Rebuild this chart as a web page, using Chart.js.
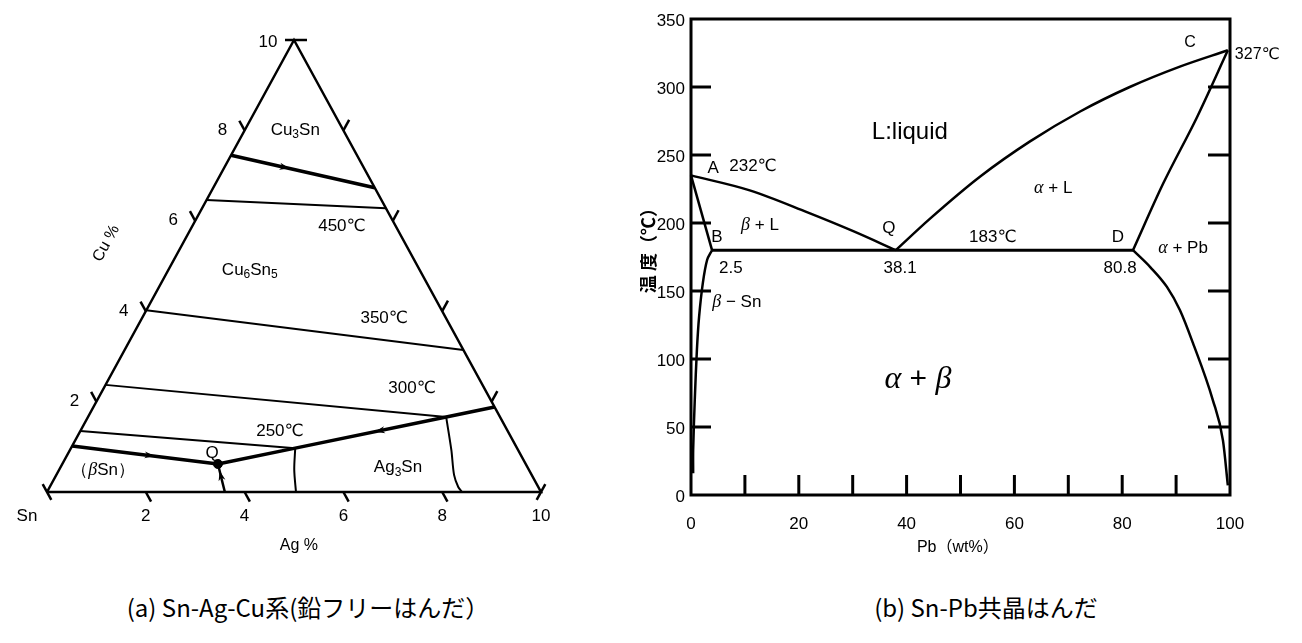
<!DOCTYPE html>
<html lang="ja">
<head>
<meta charset="UTF-8">
<title>Sn-Ag-Cu / Sn-Pb</title>
<script src="https://cdn.jsdelivr.net/npm/chart.js@4"></script>
<style>
    body {
        margin: 0;
        width: 1302px;
        height: 643px;
        background: #fff;
        position: relative;
        overflow: hidden;
    }
    #ternary { position: absolute; left: 0; top: 0; }
    #phase { position: absolute; left: 640px; top: 0; }
    .caption {
        position: absolute;
        top: 589px;
        font-family: "Noto Sans CJK JP", sans-serif;
        font-size: 24px;
        color: #000;
        transform: translateX(-50%);
        white-space: nowrap;
    }
</style>
</head>
<body>
<canvas id="ternary" width="640" height="580"></canvas>
<canvas id="phase" width="662" height="580"></canvas>
<div class="caption" style="left:308px">(a) Sn-Ag-Cu系(鉛フリーはんだ）</div>
<div class="caption" style="left:986px">(b) Sn-Pb共晶はんだ</div>

<script>
const SANS = '"Liberation Sans", "DejaVu Sans", sans-serif';

// ---- (a) Sn-Ag-Cu ternary, points as [Ag%, Cu%] ----
const triangle = [[0, 0], [10, 0], [0, 10], [0, 0]];
const cu3snBoundary = [[0, 7.45], [3.27, 6.73]];
const iso450 = [[0, 6.46], [3.72, 6.28]];
const iso350 = [[0, 4.02], [6.86, 3.14]];
const iso300 = [[0, 2.37], [7.25, 1.66]];
const iso250 = [[0, 1.35], [4.54, 0.97]];
const ag3snValley = [[8.12, 1.88], [7.25, 1.66], [4.54, 0.97], [3.15, 0.62]];
const betaSnValley = [[0, 1.02], [3.15, 0.62]];
const qToBase = [[3.15, 0.62], [3.6, 0]];
const midBoundary = [[4.54, 0.97], [4.76, 0.49], [5.04, 0]];
const ag3snRight = [[7.25, 1.66], [7.72, 0.93], [8.05, 0.38], [8.27, 0.11], [8.40, 0]];
const pointQ = [[3.15, 0.62]];
const ternaryArrows = [
    [[1.0, 7.23], [1.33, 7.157]],
    [[6.3, 1.417], [5.97, 1.334]],
    [[1.4, 0.842], [1.78, 0.794]],
    [[3.455, 0.2], [3.26, 0.47]]
];
const agTicks = [2, 4, 6, 8];
const cuTicks = [2, 4, 6, 8];
const ternaryLabels = [
    ['Cu_3Sn', 1.02, 8.01],
    ['Cu_6Sn_5', 1.65, 4.91],
    ['450℃', 3.03, 5.88],
    ['350℃', 4.9, 3.85],
    ['300℃', 6.24, 2.3],
    ['250℃', 4.04, 1.35],
    ['Ag_3Sn', 6.83, 0.55],
    ['（βSn）', 0.89, 0.49],
    ['Q', 2.91, 0.86]
];

// ---- (b) Sn-Pb phase diagram, points as [Pb wt%, °C] ----
const liquidusAQ = [[0, 235], [10.9, 224], [21.5, 208], [30.1, 194], [38, 180]];
const liquidusQC = [[38, 180], [44.3, 203], [53.6, 234], [62.9, 260], [72.2, 282], [81.4, 300], [90.7, 315], [99.6, 327]];
const solidusDC = [[82, 180], [87.6, 229], [93.9, 278], [99.6, 327]];
const solidusAB = [[0, 235], [3.9, 180]];
const eutectic = [[3.9, 180], [82, 180]];
const solvusSn = [[3.9, 180], [3.0, 173], [2.2, 156], [1.5, 131], [1.1, 107], [0.7, 70], [0.4, 33], [0.4, 16]];
const solvusPb = [[82, 180], [85.2, 167.6], [88.3, 153], [90.7, 136], [93.1, 112], [96.8, 70], [98.7, 40], [99.6, 7]];
const xTickLabels = [0, 20, 40, 60, 80, 100];
const xMinorTicks = [10, 20, 30, 40, 50, 60, 70, 80, 90];
const yTickLabels = [0, 50, 100, 150, 200, 250, 300, 350];
const yInnerTicks = [50, 100, 150, 200, 250, 300];
const phaseLabels = [
    ['C', 92.6, 333, 16, 'center'],
    ['327℃', 100.9, 323.5, 16, 'left'],
    ['L:liquid', 40.6, 267, 24, 'center'],
    ['A', 4.1, 240, 17, 'center'],
    ['232℃', 11.5, 242, 17, 'center'],
    ['α + L', 67.2, 225.7, 17, 'center'],
    ['β + L', 12.8, 198.5, 17, 'center'],
    ['Q', 36.7, 196, 17, 'center'],
    ['183℃', 56, 189.7, 17, 'center'],
    ['D', 79.2, 189.7, 17, 'center'],
    ['α + Pb', 91.3, 181.6, 17, 'center'],
    ['B', 4.8, 189.7, 17, 'center'],
    ['2.5', 7.4, 167, 17, 'center'],
    ['38.1', 38.8, 167, 17, 'center'],
    ['80.8', 79.6, 167, 17, 'center'],
    ['β − Sn', 8.5, 142, 17, 'center'],
    ['α + β', 42.1, 84.6, 30, 'center']
];

// ternary (Ag, Cu) -> plot x, y
function tern(p) { return {x: p[0] + p[1] / 2, y: p[1]}; }
function xy(p) { return {x: p[0], y: p[1]}; }

// text with italic greek letters and "_" subscripts
function drawRich(ctx, text, px, py, size, align) {
    const runs = [];
    for (let i = 0; i < text.length; i++) {
        const ch = text[i];
        if (ch === '_') { runs.push({t: text[++i], sub: true}); continue; }
        runs.push({t: ch, greek: /[αβ]/.test(ch)});
    }
    const fontOf = r => r.greek ? `italic ${Math.round(size * 1.05)}px "Liberation Serif", serif`
        : r.sub ? `${Math.round(size * 0.72)}px ${SANS}` : `${size}px ${SANS}`;
    let w = 0;
    runs.forEach(r => { ctx.font = fontOf(r); r.w = ctx.measureText(r.t).width; w += r.w; });
    let cx = align === 'left' ? px : align === 'right' ? px - w : px - w / 2;
    ctx.textAlign = 'left';
    ctx.textBaseline = 'middle';
    runs.forEach(r => {
        ctx.font = fontOf(r);
        ctx.fillText(r.t, cx, r.sub ? py + size * 0.3 : py);
        cx += r.w;
    });
}

function seg(ctx, x1, y1, x2, y2) {
    ctx.beginPath(); ctx.moveTo(x1, y1); ctx.lineTo(x2, y2); ctx.stroke();
}

function lineSet(points, width, conv, smooth) {
    const ds = {
        data: points.map(conv),
        showLine: true,
        borderColor: '#000',
        borderWidth: width,
        pointRadius: 0,
        fill: false,
        tension: 0,
        clip: false
    };
    if (smooth === 'mono') ds.cubicInterpolationMode = 'monotone';
    else if (smooth) ds.tension = smooth;
    return ds;
}

// ---------- chart (a) ----------
const ternaryDecor = {
    id: 'ternaryDecor',
    afterDatasetsDraw(chart) {
        const {ctx, scales: {x, y}} = chart;
        const px = p => { const t = tern(p); return [x.getPixelForValue(t.x), y.getPixelForValue(t.y)]; };
        const apex = px([0, 10]), left = px([0, 0]), right = px([10, 0]);
        const unit = (a, b) => { const dx = b[0] - a[0], dy = b[1] - a[1], l = Math.hypot(dx, dy); return [dx / l, dy / l]; };
        const dR = unit(apex, right);   // down the right edge
        const dL = unit(left, apex);    // up the left edge
        ctx.save();
        ctx.strokeStyle = '#000';
        ctx.fillStyle = '#000';
        ctx.lineWidth = 2.5;
        agTicks.forEach(v => { const p = px([v, 0]); seg(ctx, p[0], p[1], p[0] + dR[0] * 11, p[1] + dR[1] * 11); });
        cuTicks.forEach(v => {
            const p = px([0, v]); seg(ctx, p[0], p[1], p[0] - dR[0] * 11, p[1] - dR[1] * 11);
            const q = px([10 - v, v]); seg(ctx, q[0], q[1], q[0] + dL[0] * 12, q[1] + dL[1] * 12);
        });
        seg(ctx, left[0] - dR[0] * 9, left[1] - dR[1] * 9, left[0] + dR[0] * 9, left[1] + dR[1] * 9);
        seg(ctx, right[0] - dL[0] * 9, right[1] - dL[1] * 9, right[0] + dL[0] * 9, right[1] + dL[1] * 9);
        seg(ctx, apex[0] - 9, apex[1], apex[0] + 13, apex[1]);

        // arrowheads
        ternaryArrows.forEach(([a, b]) => {
            const pa = px(a), pb = px(b), d = unit(pa, pb);
            const n = [-d[1], d[0]];
            ctx.beginPath();
            ctx.moveTo(pb[0], pb[1]);
            ctx.lineTo(pb[0] - d[0] * 10 + n[0] * 3.5, pb[1] - d[1] * 10 + n[1] * 3.5);
            ctx.lineTo(pb[0] - d[0] * 7, pb[1] - d[1] * 7);
            ctx.lineTo(pb[0] - d[0] * 10 - n[0] * 3.5, pb[1] - d[1] * 10 - n[1] * 3.5);
            ctx.closePath();
            ctx.fill();
        });

        // axis numbers
        ctx.font = `17px ${SANS}`;
        ctx.textAlign = 'center';
        ctx.textBaseline = 'middle';
        agTicks.concat([10]).forEach(v => { const p = px([v, 0]); ctx.fillText(String(v), p[0], p[1] + 24); });
        ctx.fillText('Sn', left[0] - 20, left[1] + 24);
        cuTicks.forEach(v => { const p = px([0, v]); ctx.fillText(String(v), p[0] - 22, p[1]); });
        ctx.fillText('10', apex[0] - 26, apex[1] + 2);
        ctx.font = `16px ${SANS}`;
        ctx.fillText('Ag %', x.getPixelForValue(5.1), left[1] + 54);
        ctx.save();
        const cp = px([-1.55, 5.5]);
        ctx.translate(cp[0], cp[1]);
        ctx.rotate(-Math.atan2(left[1] - apex[1], apex[0] - left[0]));
        ctx.fillText('Cu %', 0, 0);
        ctx.restore();

        ternaryLabels.forEach(([t, ag, cu]) => { const p = px([ag, cu]); drawRich(ctx, t, p[0], p[1], 17, 'center'); });
        ctx.restore();
    }
};

new Chart(document.getElementById('ternary'), {
    type: 'scatter',
    data: {
        datasets: [
            lineSet(triangle, 2.5, tern),
            lineSet(cu3snBoundary, 3.5, tern),
            lineSet(iso450, 2, tern),
            lineSet(iso350, 2, tern),
            lineSet(iso300, 2, tern),
            lineSet(iso250, 2, tern),
            lineSet(ag3snValley, 3.5, tern),
            lineSet(betaSnValley, 3.5, tern),
            lineSet(qToBase, 2.5, tern),
            lineSet(midBoundary, 2, tern, 0.3),
            lineSet(ag3snRight, 2, tern, 0.3),
            {data: pointQ.map(tern), pointRadius: 4.5, backgroundColor: '#000', borderColor: '#000', clip: false}
        ]
    },
    options: {
        responsive: false,
        animation: false,
        layout: {padding: {left: 47, right: 99, top: 40, bottom: 88}},
        plugins: {legend: {display: false}, tooltip: {enabled: false}},
        scales: {
            x: {type: 'linear', min: 0, max: 10, display: false},
            y: {type: 'linear', min: 0, max: 10, display: false}
        }
    },
    plugins: [ternaryDecor]
});

// ---------- chart (b) ----------
const phaseDecor = {
    id: 'phaseDecor',
    afterDatasetsDraw(chart) {
        const {ctx, chartArea: a, scales: {x, y}} = chart;
        ctx.save();
        ctx.strokeStyle = '#000';
        ctx.fillStyle = '#000';
        ctx.lineWidth = 3;
        ctx.strokeRect(a.left, a.top, a.right - a.left, a.bottom - a.top);
        xMinorTicks.forEach(v => { const p = x.getPixelForValue(v); seg(ctx, p, a.bottom, p, a.bottom - 20); });
        yInnerTicks.forEach(v => {
            const p = y.getPixelForValue(v);
            seg(ctx, a.left, p, a.left + 20, p);
            seg(ctx, a.right, p, a.right - 22, p);
        });
        ctx.font = `17px ${SANS}`;
        ctx.textBaseline = 'middle';
        ctx.textAlign = 'right';
        yTickLabels.forEach(v => ctx.fillText(String(v), a.left - 6, y.getPixelForValue(v) + 2));
        ctx.textAlign = 'center';
        xTickLabels.forEach(v => ctx.fillText(String(v), x.getPixelForValue(v), a.bottom + 29));
        ctx.font = `16px "Liberation Sans", "Noto Sans CJK JP", sans-serif`;
        ctx.fillText('Pb（wt%）', x.getPixelForValue(49.5), a.bottom + 53);
        ctx.save();
        ctx.translate(a.left - 43, y.getPixelForValue(183));
        ctx.rotate(-Math.PI / 2);
        ctx.font = `bold 18px "Noto Sans CJK JP", sans-serif`;
        ctx.fillText('温 度（℃）', 0, 0);
        ctx.restore();
        phaseLabels.forEach(([t, px, py, s, al]) => drawRich(ctx, t, x.getPixelForValue(px), y.getPixelForValue(py), s, al));
        ctx.restore();
    }
};

new Chart(document.getElementById('phase'), {
    type: 'scatter',
    data: {
        datasets: [
            lineSet(liquidusAQ, 2.5, xy, 'mono'),
            lineSet(liquidusQC, 2.5, xy, 'mono'),
            lineSet(solidusDC, 2.5, xy, 'mono'),
            lineSet(solidusAB, 2.5, xy),
            lineSet(eutectic, 3, xy),
            lineSet(solvusSn, 2.5, xy, 0.3),
            lineSet(solvusPb, 2.5, xy, 'mono')
        ]
    },
    options: {
        responsive: false,
        animation: false,
        layout: {padding: {left: 51, right: 72, top: 19, bottom: 85}},
        plugins: {legend: {display: false}, tooltip: {enabled: false}},
        scales: {
            x: {type: 'linear', min: 0, max: 100, display: false},
            y: {type: 'linear', min: 0, max: 350, display: false}
        }
    },
    plugins: [phaseDecor]
});
</script>
</body>
</html>
